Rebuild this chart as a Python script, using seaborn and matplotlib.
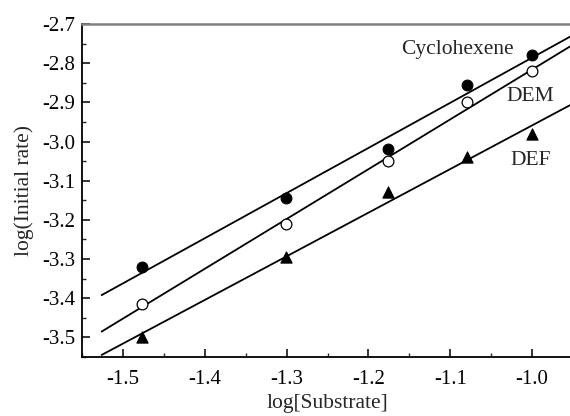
import numpy as np
import pandas as pd
import matplotlib
matplotlib.use("Agg")
import matplotlib.pyplot as plt
import seaborn as sns
from matplotlib.ticker import MultipleLocator, FormatStrFormatter

sns.set_style("ticks")
plt.rcParams['font.family'] = ['Liberation Serif', 'DejaVu Serif']

log_substrate = [-1.477, -1.301, -1.176, -1.079, -1.0]
cyclohexene = [-3.32, -3.145, -3.02, -2.855, -2.78]
dem = [-3.415, -3.21, -3.05, -2.90, -2.82]
deF = [-3.50, -3.295, -3.13, -3.04, -2.98]
series_names = ["Cyclohexene", "DEM", "DEF"]

fig = plt.figure(figsize=(5.70, 4.16), dpi=100)
ax = fig.add_axes([82/570, 1 - 357/416, 491/570, (357 - 24)/416])

# regression lines drawn from x = -1.526 to right edge
ax.set_xlim(-1.526, -0.95)
for ys in (cyclohexene, dem, deF):
    sns.regplot(x=log_substrate, y=ys, ax=ax, scatter=False, truncate=False, ci=None,
                line_kws=dict(color="black", lw=1.3))

sns.scatterplot(x=log_substrate, y=cyclohexene, ax=ax, marker="o", s=60,
                color="black", edgecolor="black", linewidth=0.8, zorder=5)
sns.scatterplot(x=log_substrate, y=dem, ax=ax, marker="o", s=60,
                facecolor="white", edgecolor="black", linewidth=0.9, zorder=5)
sns.scatterplot(x=log_substrate, y=deF, ax=ax, marker="^", s=65,
                color="black", edgecolor="black", linewidth=0.8, zorder=5)

ax.set_xlim(-1.55, -0.95)
ax.set_ylim(-3.55, -2.7)

ax.xaxis.set_major_locator(MultipleLocator(0.1))
ax.xaxis.set_minor_locator(MultipleLocator(0.05))
ax.yaxis.set_major_locator(MultipleLocator(0.1))
ax.yaxis.set_minor_locator(MultipleLocator(0.05))
ax.xaxis.set_major_formatter(FormatStrFormatter("%.1f"))
ax.yaxis.set_major_formatter(FormatStrFormatter("%.1f"))
ax.tick_params(which="major", direction="in", length=6, width=1.1, labelsize=15,
               colors="black")
ax.tick_params(axis="y", which="major", pad=5)
ax.tick_params(axis="x", which="major", pad=9)
ax.tick_params(which="minor", direction="in", length=3, width=1.0)

for s in ("left", "bottom"):
    ax.spines[s].set_color("black")
    ax.spines[s].set_linewidth(1.3)
ax.spines["top"].set_color("#808080")
ax.spines["top"].set_linewidth(1.8)
ax.spines["right"].set_visible(False)

ax.set_xlabel("log[Substrate]", fontsize=15.5, labelpad=4)
ax.set_ylabel("log(Initial rate)", fontsize=15.5, labelpad=6)

ax.text(-1.0916, -2.764, series_names[0], fontsize=15.5, ha="center", va="center")
ax.text(-1.0023, -2.886, series_names[1], fontsize=15.5, ha="center", va="center")
ax.text(-1.0023, -3.049, series_names[2], fontsize=15.5, ha="center", va="center")

fig.savefig("out.png", dpi=100)
